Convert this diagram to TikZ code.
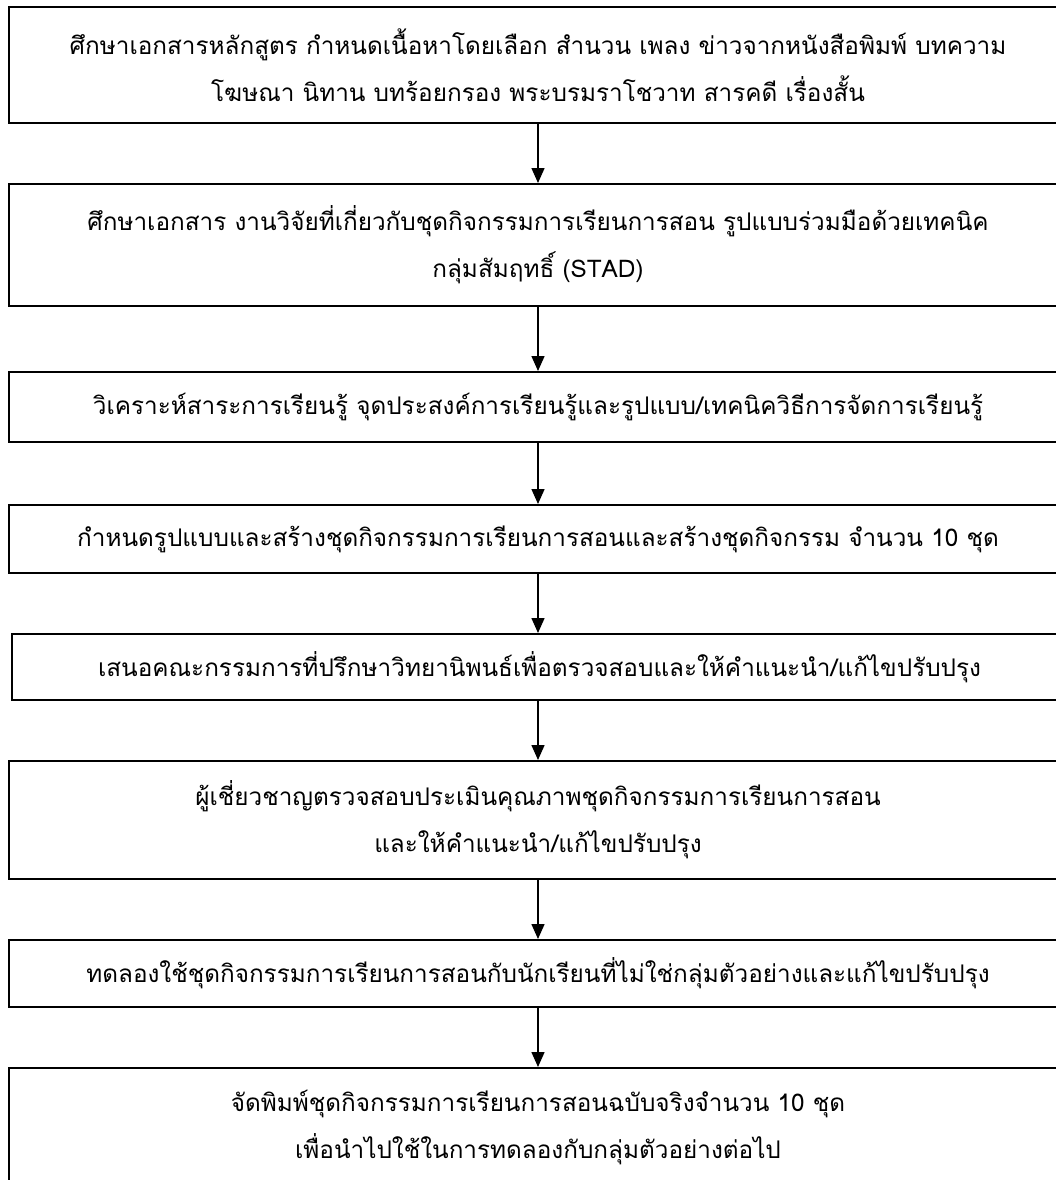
\documentclass[tikz,border=0pt]{standalone}
\usepackage{fontspec}
\newfontfamily\thaifont[Script=Thai]{Loma}
\usetikzlibrary{arrows.meta}
\begin{document}
\begin{tikzpicture}[x=1pt,y=-1pt,
  box/.style={draw, line width=2pt, minimum width=1058pt, inner sep=0pt, align=center,
    font=\thaifont\fontsize{24.3}{47}\selectfont},
  arr/.style={-{Triangle[width=13pt,length=15pt]}, line width=1.5pt}]
\useasboundingbox (0,0) rectangle (1056,1180);
\clip (0,0) rectangle (1056,1180);
\node[box, minimum height=116pt] (b1) at (538,65)
  {ศึกษาเอกสารหลักสูตร กำหนดเนื้อหาโดยเลือก สำนวน เพลง ข่าวจากหนังสือพิมพ์ บทความ\\
   โฆษณา นิทาน บทร้อยกรอง พระบรมราโชวาท สารคดี เรื่องสั้น};
\node[box, minimum height=122pt] (b2) at (538,245)
  {ศึกษาเอกสาร งานวิจัยที่เกี่ยวกับชุดกิจกรรมการเรียนการสอน รูปแบบร่วมมือด้วยเทคนิค\\
   กลุ่มสัมฤทธิ์ (STAD)};
\node[box, minimum height=70pt] (b3) at (538,407)
  {วิเคราะห์สาระการเรียนรู้ จุดประสงค์การเรียนรู้และรูปแบบ/เทคนิควิธีการจัดการเรียนรู้};
\node[box, minimum height=68pt] (b4) at (538,539)
  {กำหนดรูปแบบและสร้างชุดกิจกรรมการเรียนการสอนและสร้างชุดกิจกรรม จำนวน 10 ชุด};
\node[box, minimum height=66pt, minimum width=1055pt] (b5) at (539.5,667)
  {เสนอคณะกรรมการที่ปรึกษาวิทยานิพนธ์เพื่อตรวจสอบและให้คำแนะนำ/แก้ไขปรับปรุง};
\node[box, minimum height=118pt] (b6) at (538,820)
  {ผู้เชี่ยวชาญตรวจสอบประเมินคุณภาพชุดกิจกรรมการเรียนการสอน\\
   และให้คำแนะนำ/แก้ไขปรับปรุง};
\node[box, minimum height=67pt] (b7) at (538,973.5)
  {ทดลองใช้ชุดกิจกรรมการเรียนการสอนกับนักเรียนที่ไม่ใช่กลุ่มตัวอย่างและแก้ไขปรับปรุง};
\node[box, minimum height=118pt] (b8) at (538,1127)
  {จัดพิมพ์ชุดกิจกรรมการเรียนการสอนฉบับจริงจำนวน 10 ชุด\\
   เพื่อนำไปใช้ในการทดลองกับกลุ่มตัวอย่างต่อไป};
\draw[arr] (b1.south) -- (b1.south |- b2.north);
\draw[arr] (b2.south) -- (b2.south |- b3.north);
\draw[arr] (b3.south) -- (b3.south |- b4.north);
\draw[arr] (b4.south) -- (b4.south |- b5.north);
\draw[arr] (b4.south |- b5.south) -- (b4.south |- b6.north);
\draw[arr] (b6.south) -- (b6.south |- b7.north);
\draw[arr] (b7.south) -- (b7.south |- b8.north);
\end{tikzpicture}
\end{document}
